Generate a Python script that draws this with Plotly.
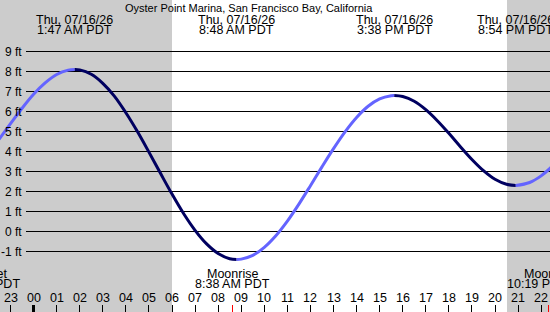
import plotly.graph_objects as go

# ---------------- data (hours relative to local midnight of 07/16/26) ----------------
times = [-1.5, -1.0, -0.5, 0.0, 0.5, 1.0, 1.5, 1.783,
         2.0, 2.5, 3.0, 3.5, 4.0, 4.5, 5.0, 5.5, 6.0, 6.5, 7.0, 7.5, 8.0, 8.5, 8.8,
         9.0, 9.5, 10.0, 10.5, 11.0, 11.5, 12.0, 12.5, 13.0, 13.5, 14.0, 14.5, 15.0, 15.5, 15.633,
         16.0, 16.5, 17.0, 17.5, 18.0, 18.5, 19.0, 19.5, 20.0, 20.5, 20.9,
         21.5, 22.0, 22.5]
heights = [4.61, 5.39, 6.16, 6.86, 7.43, 7.85, 8.07, 8.10,
           8.08, 7.86, 7.41, 6.77, 5.94, 5.00, 3.97, 2.91, 1.87, 0.90, 0.06, -0.62, -1.10, -1.36, -1.40,
           -1.38, -1.19, -0.79, -0.21, 0.52, 1.37, 2.29, 3.23, 4.14, 4.98, 5.70, 6.26, 6.63, 6.79, 6.80,
           6.75, 6.51, 6.09, 5.54, 4.91, 4.24, 3.60, 3.04, 2.61, 2.36, 2.30,
           2.45, 2.78, 3.28]

event_hours = [1.783, 8.8, 15.633, 20.9]
event_dates = ["Thu, 07/16/26", "Thu, 07/16/26", "Thu, 07/16/26", "Thu, 07/16/26"]
event_times = ["1:47 AM PDT", "8:48 AM PDT", "3:38 PM PDT", "8:54 PM PDT"]

moon_hours = [-2.2, 8.633, 22.317]
moon_names = ["Moonset", "Moonrise", "Moonset"]
moon_times = ["9:48 PM PDT", "8:38 AM PDT", "10:19 PM PDT"]

sunrise_hour = 6.0
sunset_hour = 20.52

tick_hours = list(range(-1, 23))
tick_labels = ["23", "00", "01", "02", "03", "04", "05", "06", "07", "08", "09", "10",
               "11", "12", "13", "14", "15", "16", "17", "18", "19", "20", "21", "22"]
midnight_hour = [0]

ft_levels = [9, 8, 7, 6, 5, 4, 3, 2, 1, 0, -1]

title_text = "Oyster Point Marina, San Francisco Bay, California"

# ---------------- styling ----------------
W, H = 550, 312
X0, X1 = -1.456, 22.384
Y0, Y1 = -4.025, 11.575
RISE = "rgb(100,100,255)"
FALL = "rgb(0,0,96)"
GREY = "#cccccc"
FONT = "Liberation Sans, Arial, sans-serif"


def xfrac(h):
    return (h - X0) / (X1 - X0)


def yfrac(py):
    return 1 - py / H


fig = go.Figure()

# split the curve into rising / falling runs
segs = []
cur = [0]
for i in range(1, len(times)):
    cur.append(i)
    if 0 < i < len(times) - 1:
        d1 = heights[i] - heights[i - 1]
        d2 = heights[i + 1] - heights[i]
        if d1 * d2 < 0:
            segs.append(cur)
            cur = [i]
segs.append(cur)

for s in segs:
    xs = [times[i] for i in s]
    ys = [heights[i] for i in s]
    rising = ys[-1] > ys[0]
    fig.add_trace(go.Scatter(x=xs, y=ys, mode="lines",
                             line=dict(color=RISE if rising else FALL, width=3,
                                       shape="spline", smoothing=1),
                             showlegend=False, hoverinfo="skip"))

# helper traces for extra tick axes
fig.add_trace(go.Scatter(x=midnight_hour, y=[None], xaxis="x2", mode="markers",
                         showlegend=False, hoverinfo="skip"))
fig.add_trace(go.Scatter(x=moon_hours, y=[None] * len(moon_hours), xaxis="x3", mode="markers",
                         showlegend=False, hoverinfo="skip"))

shapes = []
# night shading
shapes.append(dict(type="rect", xref="x", yref="paper", x0=X0 - 2, x1=sunrise_hour, y0=0, y1=1,
                   fillcolor=GREY, line=dict(width=0), layer="below"))
shapes.append(dict(type="rect", xref="x", yref="paper", x0=sunset_hour, x1=X1 + 2, y0=0, y1=1,
                   fillcolor=GREY, line=dict(width=0), layer="below"))
# horizontal ft lines
for v in ft_levels:
    shapes.append(dict(type="line", xref="paper", yref="y", x0=26 / W, x1=1, y0=v, y1=v,
                       line=dict(color="black", width=1), layer="below"))

ann = []
ann.append(dict(text=title_text, xref="paper", yref="paper", x=248.5 / W, y=yfrac(7.5),
                xanchor="center", yanchor="middle", showarrow=False,
                font=dict(family=FONT, size=11, color="black")))
for v in ft_levels:
    ann.append(dict(text=f"{v} ft", xref="paper", yref="y", x=24 / W, y=v,
                    xanchor="right", yanchor="middle", showarrow=False,
                    font=dict(family=FONT, size=12, color="black")))
for h, d, t in zip(event_hours, event_dates, event_times):
    ann.append(dict(text=d, xref="paper", yref="paper", x=xfrac(h), y=yfrac(20),
                    xanchor="center", yanchor="middle", showarrow=False,
                    font=dict(family=FONT, size=12.5, color="black")))
    ann.append(dict(text=t, xref="paper", yref="paper", x=xfrac(h), y=yfrac(30.5),
                    xanchor="center", yanchor="middle", showarrow=False,
                    font=dict(family=FONT, size=12.5, color="black")))
for h, n, t in zip(moon_hours, moon_names, moon_times):
    ann.append(dict(text=n, xref="paper", yref="paper", x=xfrac(h), y=yfrac(273.5),
                    xanchor="center", yanchor="middle", showarrow=False,
                    font=dict(family=FONT, size=12.5, color="black")))
    ann.append(dict(text=t, xref="paper", yref="paper", x=xfrac(h), y=yfrac(284),
                    xanchor="center", yanchor="middle", showarrow=False,
                    font=dict(family=FONT, size=12.5, color="black")))
for h, lab in zip(tick_hours, tick_labels):
    ann.append(dict(text=lab, xref="x", yref="paper", x=h, y=yfrac(298),
                    xanchor="center", yanchor="middle", showarrow=False,
                    font=dict(family=FONT, size=12.5, color="black")))

common_x = dict(range=[X0, X1], showgrid=False, zeroline=False, showline=False,
                showticklabels=False, ticks="inside", ticklen=7, fixedrange=True)

fig.update_layout(
    width=W, height=H,
    margin=dict(l=0, r=0, t=0, b=0, pad=0),
    paper_bgcolor="white", plot_bgcolor="white",
    showlegend=False,
    xaxis=dict(**common_x, tickvals=tick_hours, tickcolor="black", tickwidth=1),
    xaxis2=dict(**common_x, overlaying="x", anchor="y", tickvals=midnight_hour,
                tickcolor="black", tickwidth=3),
    xaxis3=dict(**common_x, overlaying="x", anchor="y", tickvals=moon_hours,
                tickcolor="red", tickwidth=1),
    yaxis=dict(range=[Y0, Y1], showgrid=False, zeroline=False, showticklabels=False,
               showline=False, ticks="", fixedrange=True),
    shapes=shapes,
    annotations=ann,
)

fig.write_html("out.html")
